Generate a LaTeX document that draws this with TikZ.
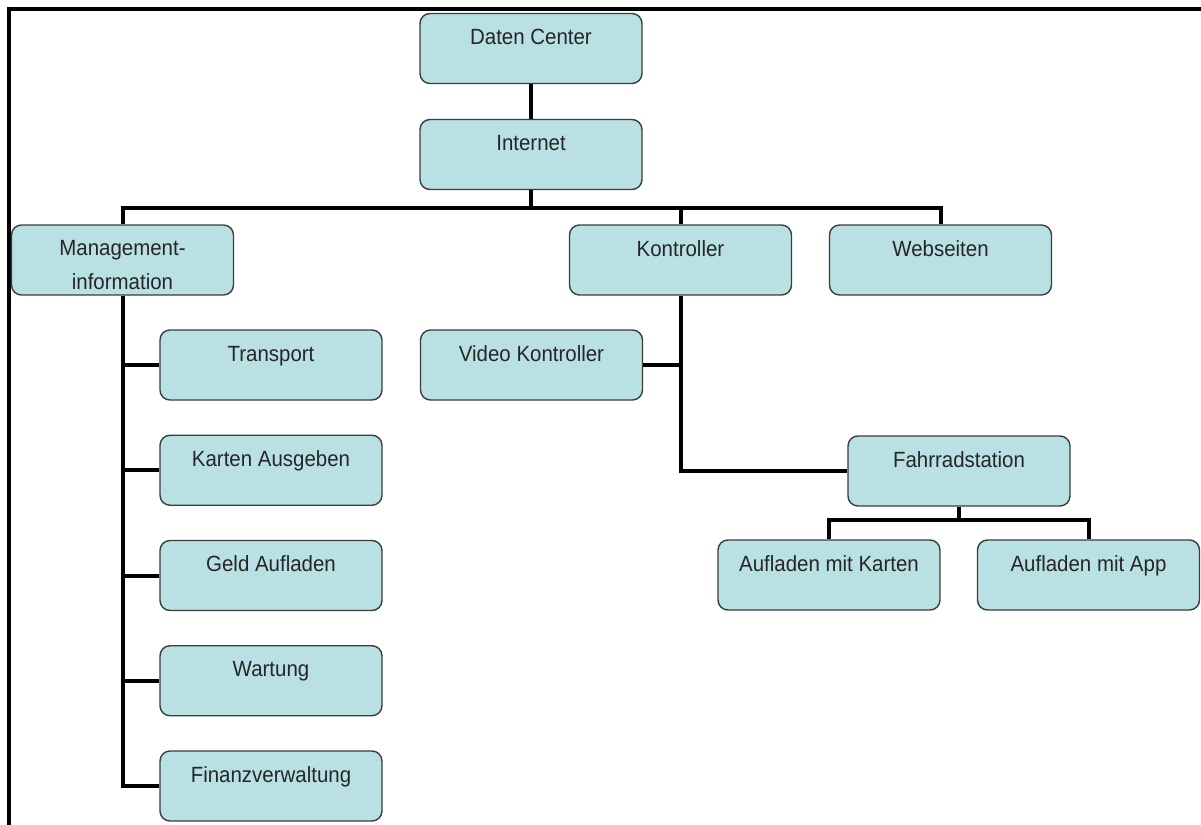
\documentclass[tikz,border=0pt]{standalone}
\usepackage{fontspec}
\setmainfont{Liberation Sans}[FakeStretch=0.93]
\definecolor{unitfill}{RGB}{185,224,227}
\definecolor{unitedge}{RGB}{60,60,60}

\begin{document}
\begin{tikzpicture}[
    x=0.5pt, y=-0.5pt,
    font=\fontsize{11}{17}\selectfont,
    unit/.style={draw=unitedge, fill=unitfill, line width=0.7pt, rounded corners=5pt, minimum width=111pt, inner xsep=0pt, inner ysep=0pt, text height=15.5pt, text depth=19.5pt, align=center, text=black!85},
    link/.style={line width=2pt},
    frame/.style={line width=1.6pt}
]
  \def\pitch{105.25}
  \useasboundingbox (0,0) rectangle (1201,825);

  % frame
  \draw[frame] (9,825) -- (9,9) -- (1201,9);

  % top levels
  \node[unit] (daten) at (531,48.5) {Daten Center};
  \node[unit] (internet) at (531,154.5) {Internet};
  \node[unit, text height=32pt, text depth=3pt] (mgmt) at (122.5,260) {Management-\\information};
  \node[unit] (kontroller) at (680.5,260) {Kontroller};
  \node[unit] (web) at (940.5,260) {Webseiten};

  \coordinate (bus) at (531,208);
  \draw[link] (daten) -- (internet);
  \draw[link] (internet.south) -- (bus);
  \draw[link] (mgmt.north) |- (bus) -| (web.north);
  \draw[link] (bus) -| (kontroller.north);

  % management branch
  \foreach \n/\t [count=\i from 0] in {transport/Transport, karten/Karten Ausgeben, geld/Geld Aufladen, wartung/Wartung, finanz/Finanzverwaltung} {
    \node[unit] (\n) at (271,{365+\i*\pitch}) {\t};
    \draw[link] (mgmt.south) |- (\n.west);
  }

  % kontroller branch
  \node[unit] (video) at (531.5,365) {Video Kontroller};
  \node[unit] (fahrrad) at (959,471) {Fahrradstation};
  \draw[link] (kontroller.south) |- (fahrrad.west);
  \draw[link] (video.east) -- (video.east -| kontroller.south);

  \node[unit] (aufkarten) at (829,575) {Aufladen mit Karten};
  \node[unit] (aufapp) at (1088.5,575) {Aufladen mit App};
  \coordinate (fbus) at (959,520);
  \draw[link] (fahrrad.south) -- (fbus);
  \draw[link] (aufkarten.north) |- (fbus) -| (aufapp.north);
\end{tikzpicture}
\end{document}
